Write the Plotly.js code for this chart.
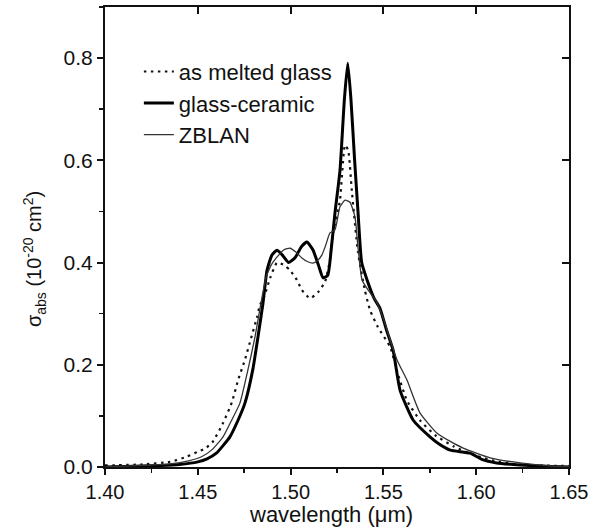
<!DOCTYPE html>
<html>
<head>
<meta charset="utf-8">
<script src="https://cdn.plot.ly/plotly-3.0.1.min.js"></script>
<style>html,body{margin:0;padding:0;background:#fff}#chart{width:592px;height:531px}</style>
</head>
<body>
<div id="chart"></div>
<script>
// as melted glass (dotted)
const amX = [1.400,1.420,1.435,1.444,1.450,1.454,1.458,1.4636,1.4684,1.4717,1.4754,1.4787,1.4819,1.4835,1.486,1.489,1.4927,1.4965,1.4997,1.5034,1.5061,1.5105,1.5148,1.5185,1.5212,1.5229,1.5266,1.5293,1.531,1.533,1.5363,1.540,1.5428,1.547,1.5536,1.558,1.5627,1.570,1.578,1.588,1.600,1.610,1.620,1.635,1.650];
const amY = [0.003,0.005,0.010,0.020,0.030,0.036,0.049,0.086,0.127,0.170,0.210,0.252,0.293,0.317,0.336,0.370,0.400,0.395,0.385,0.366,0.346,0.330,0.342,0.362,0.405,0.458,0.522,0.630,0.620,0.540,0.420,0.346,0.307,0.274,0.235,0.180,0.130,0.090,0.062,0.040,0.022,0.012,0.006,0.003,0.002];
// glass-ceramic (thick)
const gcX = [1.400,1.420,1.430,1.440,1.450,1.455,1.460,1.4673,1.4715,1.4754,1.4796,1.4824,1.4851,1.4873,1.490,1.4927,1.4955,1.499,1.5025,1.506,1.5088,1.512,1.515,1.5175,1.520,1.522,1.524,1.5266,1.529,1.5308,1.5325,1.5345,1.5363,1.5383,1.5412,1.545,1.5482,1.5515,1.5552,1.559,1.566,1.5751,1.580,1.586,1.5967,1.603,1.611,1.6236,1.640,1.650];
const gcY = [0.000,0.002,0.003,0.005,0.010,0.016,0.027,0.059,0.090,0.125,0.190,0.254,0.320,0.385,0.415,0.424,0.415,0.400,0.410,0.432,0.440,0.425,0.395,0.370,0.375,0.430,0.500,0.580,0.720,0.790,0.720,0.600,0.500,0.400,0.366,0.330,0.310,0.270,0.229,0.150,0.092,0.059,0.045,0.033,0.027,0.015,0.008,0.004,0.001,0.000];
// ZBLAN (thin)
const zbX = [1.400,1.420,1.435,1.445,1.452,1.458,1.4636,1.468,1.4727,1.477,1.4808,1.484,1.4867,1.4895,1.4925,1.4965,1.4997,1.503,1.5061,1.509,1.512,1.5145,1.5169,1.519,1.5212,1.5239,1.5266,1.5293,1.532,1.5347,1.5363,1.5385,1.542,1.546,1.550,1.554,1.5574,1.5627,1.5697,1.5789,1.586,1.593,1.6075,1.6236,1.640,1.650];
const zbY = [0.000,0.003,0.006,0.012,0.020,0.035,0.059,0.090,0.125,0.190,0.254,0.320,0.370,0.395,0.410,0.425,0.428,0.420,0.409,0.402,0.399,0.404,0.415,0.435,0.458,0.464,0.509,0.522,0.518,0.489,0.430,0.366,0.345,0.325,0.290,0.245,0.209,0.170,0.106,0.066,0.050,0.037,0.018,0.008,0.002,0.001];

const seriesNames = ['as melted glass','glass-ceramic','ZBLAN'];
const xTickVals = [1.40,1.45,1.50,1.55,1.60,1.65];
const xTickText = ['1.40','1.45','1.50','1.55','1.60','1.65'];
const yTickVals = [0.0,0.2,0.4,0.6,0.8];
const yTickText = ['0.0','0.2','0.4','0.6','0.8'];
const xTitle = 'wavelength (μm)';
const yTitle = 'σ<sub>abs</sub> (10<sup>-20</sup> cm<sup>2</sup>)';

const FONT = 'Liberation Sans, Arial, sans-serif';
const traces = [
  {x: amX, y: amY, name: seriesNames[0], mode: 'lines', line: {color: '#111', width: 2.2, dash: '2.5px,4.5px', shape: 'spline', smoothing: 0.5}},
  {x: gcX, y: gcY, name: seriesNames[1], mode: 'lines', line: {color: '#000', width: 3, shape: 'spline', smoothing: 0.5}},
  {x: zbX, y: zbY, name: seriesNames[2], mode: 'lines', line: {color: '#333', width: 1.3, shape: 'spline', smoothing: 0.5}},
  {x: [], y: [], xaxis: 'x2', yaxis: 'y2', showlegend: false, hoverinfo: 'skip'}
];

const layout = {
  width: 592, height: 531,
  margin: {l: 105, r: 23, t: 7, b: 64},
  paper_bgcolor: '#fff', plot_bgcolor: '#fff',
  font: {family: FONT, color: '#111', size: 20},
  showlegend: true,
  legend: {x: 0.073, y: 0.905, xanchor: 'left', yanchor: 'top', bgcolor: 'rgba(0,0,0,0)', font: {size: 22, family: FONT}, tracegroupgap: 0},
  xaxis: {
    range: [1.40, 1.65], tickmode: 'array', tickvals: xTickVals, ticktext: xTickText,
    ticks: 'outside', ticklen: 6, tickwidth: 2, tickcolor: '#111',
    minor: {dtick: 0.025, ticks: 'outside', ticklen: 4, tickwidth: 1.5, tickcolor: '#111', showgrid: false},
    showline: true, linewidth: 2, linecolor: '#111', mirror: true,
    showgrid: false, zeroline: false,
    tickfont: {size: 20, family: FONT}
  },
  yaxis: {
    range: [0, 0.9], tickmode: 'array', tickvals: yTickVals, ticktext: yTickText,
    ticks: 'outside', ticklen: 6, tickwidth: 2, tickcolor: '#111',
    minor: {dtick: 0.1, ticks: 'outside', ticklen: 4, tickwidth: 1.5, tickcolor: '#111', showgrid: false},
    showline: true, linewidth: 2, linecolor: '#111', mirror: true,
    showgrid: false, zeroline: false,
    tickfont: {size: 21, family: FONT}
  },
  xaxis2: {
    overlaying: 'x', side: 'top', anchor: 'y2', range: [1.40, 1.65],
    tickmode: 'array', tickvals: xTickVals, showticklabels: false,
    ticks: 'inside', ticklen: 7, tickwidth: 2, tickcolor: '#111',
    showline: false, showgrid: false, zeroline: false
  },
  yaxis2: {
    overlaying: 'y', side: 'right', anchor: 'x2', range: [0, 0.9],
    tickmode: 'array', tickvals: yTickVals, showticklabels: false,
    ticks: 'inside', ticklen: 7, tickwidth: 2, tickcolor: '#111',
    showline: false, showgrid: false, zeroline: false
  },
  annotations: [
    {text: xTitle, xref: 'paper', yref: 'paper', x: 0.487, y: -0.103, xanchor: 'center', yanchor: 'middle', showarrow: false, font: {size: 22, family: FONT, color: '#111'}},
    {text: yTitle, xref: 'paper', yref: 'paper', x: -0.153, y: 0.452, xanchor: 'center', yanchor: 'middle', textangle: -90, showarrow: false, font: {size: 20, family: FONT, color: '#111'}}
  ]
};

Plotly.newPlot('chart', traces, layout, {staticPlot: true, displayModeBar: false});
</script>
</body>
</html>
